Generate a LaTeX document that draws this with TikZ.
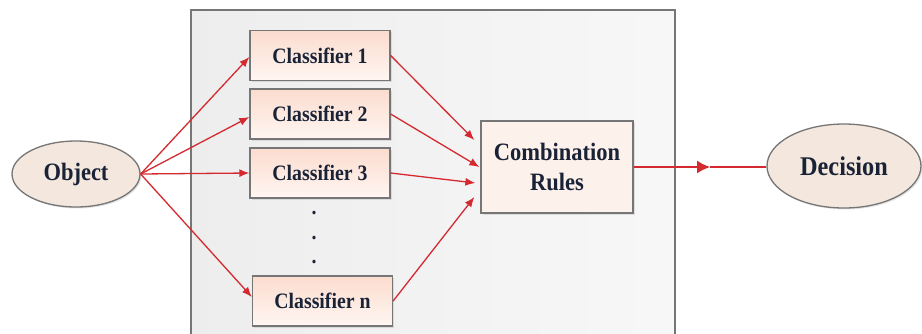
\documentclass[tikz,border=0pt]{standalone}
\usepackage{fontspec}
\setmainfont[FakeStretch=0.9,BoldFont={Liberation Serif Bold}]{Liberation Serif}
\usetikzlibrary{arrows.meta,shadows,calc,shapes.geometric}
\definecolor{arrowred}{HTML}{D42A2F}
\definecolor{txt}{HTML}{1A2336}
\definecolor{edge}{HTML}{767676}
\definecolor{boxtop}{HTML}{FBDCCE}
\definecolor{boxbot}{HTML}{FFF6F2}
\definecolor{ellfill}{HTML}{F3E7DE}
\definecolor{combfill}{HTML}{FDF1EC}
\tikzset{
  shade/.style={drop shadow={opacity=0.2,shadow xshift=1.5pt,shadow yshift=-1.5pt}},
  clsbox/.style={draw=edge,line width=1.3pt,top color=boxtop,bottom color=boxbot,
    minimum width=140pt,minimum height=50pt,inner sep=0pt,shade,
    text=txt,font=\fontsize{22}{26}\selectfont\bfseries},
  combbox/.style={draw=edge,line width=1.3pt,fill=combfill,
    minimum width=152pt,minimum height=92pt,inner sep=0pt,shade,align=center,
    text=txt,font=\fontsize{25}{30}\selectfont\bfseries},
  ell/.style={draw=edge,line width=1.3pt,fill=ellfill,ellipse,shade,inner sep=0pt,
    text=txt,font=\fontsize{25}{30}\selectfont\bfseries},
  dotnode/.style={inner sep=0pt,text=txt,font=\fontsize{22}{26}\selectfont\bfseries},
  conn/.style={draw=arrowred,line width=1.3pt,-{Latex[length=10pt,width=8pt]}},
  plainred/.style={draw=arrowred,line width=1.3pt},
  bigarr/.style={draw=arrowred,line width=1.3pt,-{Latex[length=13pt,width=13pt]}}
}
\begin{document}
\begin{tikzpicture}[x=1pt,y=-1pt]
\useasboundingbox (0,0) rectangle (922,333);
\clip (0,0) rectangle (922,333);
\fill[white] (0,0) rectangle (922,333);
% background panel
\draw[draw=edge,line width=1.4pt,left color=black!7,right color=black!3] (191,10) rectangle (675,345);
% nodes
\node[ell,minimum width=128pt,minimum height=66pt] (obj) at (76,174) {Object};
\node[clsbox] (c1) at (320,55.5) {Classifier 1};
\node[clsbox] (c2) at (320,114) {Classifier 2};
\node[clsbox] (c3) at (320,173) {Classifier 3};
\node[clsbox] (cn) at (322.5,301) {Classifier n};
\node[dotnode] (d1) at (314,213) {.};
\node[dotnode] (d2) at (314,238) {.};
\node[dotnode] (d3) at (314,262) {.};
\node[combbox] (comb) at (557,167) {Combination\\Rules};
\node[ell,minimum width=154pt,minimum height=84pt,font=\fontsize{27}{30}\selectfont\bfseries] (dec) at (844,166) {Decision};
% connectors
\draw[conn] (obj.east) -- ([yshift=-1.5pt]c1.west);
\draw[conn] (obj.east) -- ([yshift=-3pt]c2.west);
\draw[conn] (obj.east) -- (c3.west);
\draw[conn] (obj.east) -- ([yshift=4pt]cn.west);
\draw[conn] (c1.east) -- ([xshift=-6pt,yshift=27pt]comb.west);
\draw[conn] (c2.east) -- ([xshift=-1pt]comb.west);
\draw[conn] (c3.east) -- ([xshift=-5pt,yshift=-16pt]comb.west);
\draw[conn] (cn.east) -- ([xshift=-6pt,yshift=-30pt]comb.west);
\coordinate (mid) at (710,167);
\draw[bigarr] (comb.east) -- (mid);
\draw[plainred] (mid) -- (dec.west |- mid);
\end{tikzpicture}
\end{document}
